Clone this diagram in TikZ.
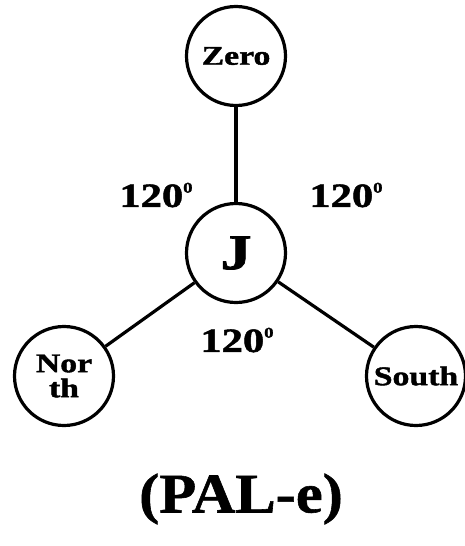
\documentclass[tikz,border=0pt]{standalone}
\usepackage{fontspec}
\setmainfont{Liberation Serif}
\newfontfamily\widefont[FakeStretch=1.25,FakeBold=1.5]{Liberation Serif Bold}
\newfontfamily\titlefont[FakeStretch=1.08,FakeBold=1]{Liberation Serif Bold}
\newcommand{\degmark}{\raisebox{0.42em}{\fontsize{15}{15}\selectfont 0}}
\begin{document}
\begin{tikzpicture}[x=1pt,y=-1pt,
  ball/.style={circle,draw,line width=3.2pt,minimum size=99pt,inner sep=0pt,font=\widefont\fontsize{27}{25}\selectfont,align=center},
  conn/.style={line width=3.2pt},
  ang/.style={font=\widefont\fontsize{34}{34}\selectfont,inner sep=0pt}]
\useasboundingbox (0,0) rectangle (464,546);
\node[ball] (Zero) at (236,56) {Zero};
\node[ball] (J) at (236,253) {\fontsize{50}{50}\selectfont J};
\node[ball] (North) at (64,376) {Nor\\th};
\node[ball] (South) at (416,376) {South};
\draw[conn] (Zero) -- (J);
\draw[conn] (J) -- (North);
\draw[conn] (J) -- (South);
\node[ang] (a1) at (156,195) {120\degmark};
\node[ang] (a2) at (346,195) {120\degmark};
\node[ang] (a3) at (237,340) {120\degmark};
\node[font=\titlefont\fontsize{56}{56}\selectfont,inner sep=0pt] (title) at (241,499) {(PAL-e)};
\end{tikzpicture}
\end{document}
